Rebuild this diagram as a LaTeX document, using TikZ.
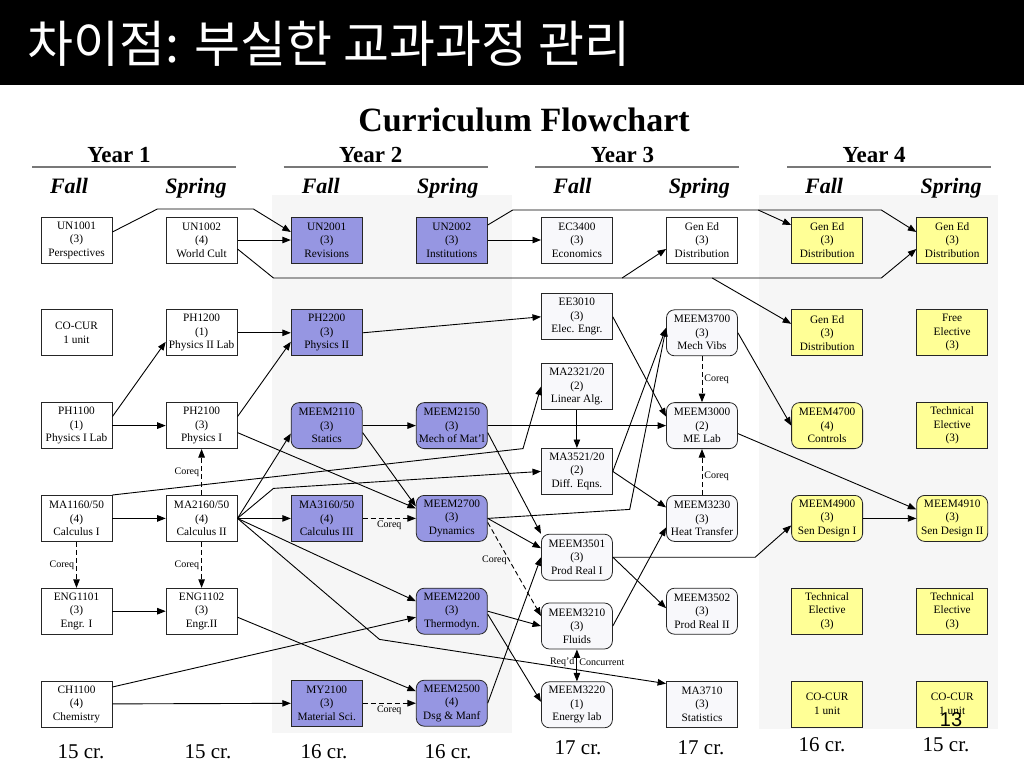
\documentclass[tikz,border=0pt]{standalone}
\usepackage{fontspec}
\setmainfont{Liberation Serif}
\setsansfont{Liberation Sans}
\newfontfamily\krfont{Noto Sans CJK KR}
\usetikzlibrary{positioning, arrows.meta, calc}
\pgfdeclarelayer{background}
\pgfsetlayers{background,main}
\definecolor{yeartwo}{RGB}{150,150,226}
\definecolor{yearthree}{RGB}{248,248,251}
\definecolor{yearfour}{RGB}{255,255,150}
\definecolor{panelgray}{RGB}{246,246,246}
\definecolor{rulegray}{RGB}{120,120,120}
\newcommand{\Course}[3]{#1\\(#2)\\#3}
\tikzset{
    course/.style={draw=black!85, line width=0.8pt, fill=white, minimum width=71pt,
      minimum height=46pt, inner sep=0pt, align=center, font=\fontsize{11.3}{13.5}\selectfont},
    mecourse/.style={course, rounded corners=8pt},
    ytwo/.style={fill=yeartwo},
    ythree/.style={fill=yearthree},
    yfour/.style={fill=yearfour},
    pre/.style={line width=0.9pt, -{Triangle[length=8.5pt,width=6.5pt]}},
    coreq/.style={pre, dash pattern=on 5pt off 3pt},
    mutual/.style={line width=0.9pt, {Triangle[length=8.5pt,width=6.5pt]}-{Triangle[length=8.5pt,width=6.5pt]}},
    tag/.style={font=\fontsize{10}{11}\selectfont, inner sep=2pt},
}

\begin{document}
\begin{tikzpicture}[x=1pt, y=1pt]
    \tikzset{
      node distance=46pt and 53.3pt
    }
    \useasboundingbox (0,0) rectangle (1024,-768);

    \begin{pgfonlayer}{background}
      \fill[panelgray] (272,-195) rectangle (512,-733);
      \fill[panelgray] (759,-195) rectangle (998,-729);
    \end{pgfonlayer}

    \fill[black] (0,0) rectangle (1024,-85);
    \node[anchor=west, text=white, font=\krfont\fontsize{50}{52}\selectfont] (slide) at (24,-44) {차이점: 부실한 교과과정 관리};
    \node[font=\bfseries\fontsize{34}{36}\selectfont] (chart) at (524,-120) {Curriculum Flowchart};

    \foreach \k in {1,...,4} {
      \pgfmathsetmacro\x{(\k-1)*251.7}
      \node[font=\bfseries\fontsize{23}{25}\selectfont] (year\k) at (119+\x,-155) {Year \k};
      \draw[rulegray, line width=2pt] (32+\x,-167) -- (236+\x,-167);
      \node[font=\bfseries\itshape\fontsize{22}{24}\selectfont] (fall\k) at (69+\x,-186) {Fall};
      \node[font=\bfseries\itshape\fontsize{22}{24}\selectfont] (spring\k) at (196+\x,-188) {Spring};
    }

    % year 1
    \node[course] (un1001) at (76.5,-240) {\Course{UN1001}{3}{Perspectives}};
    \node[course, below=of un1001] (cocur1) {CO-CUR\\1 unit};
    \node[course, below=of cocur1] (ph1100) {\Course{PH1100}{1}{Physics I Lab}};
    \node[course, below=of ph1100] (ma1160) {\Course{MA1160/50}{4}{Calculus I}};
    \node[course, below=of ma1160] (eng1101) {\Course{ENG1101}{3}{Engr. I}};
    \node[course, below=of eng1101] (ch1100) {\Course{CH1100}{4}{Chemistry}};

    \node[course, right=of un1001] (un1002) {\Course{UN1002}{4}{World Cult}};
    \node[course, right=of cocur1] (ph1200) {\Course{PH1200}{1}{Physics II Lab}};
    \node[course, right=of ph1100] (ph2100) {\Course{PH2100}{3}{Physics I}};
    \node[course, right=of ma1160] (ma2160) {\Course{MA2160/50}{4}{Calculus II}};
    \node[course, right=of eng1101] (eng1102) {\Course{ENG1102}{3}{Engr.II}};

    % year 2
    \node[course, ytwo, right=of un1002] (un2001) {\Course{UN2001}{3}{Revisions}};
    \node[course, ytwo, right=of ph1200] (ph2200) {\Course{PH2200}{3}{Physics II}};
    \node[mecourse, ytwo, right=of ph2100] (meem2110) {\Course{MEEM2110}{3}{Statics}};
    \node[course, ytwo, right=of ma2160] (ma3160) {\Course{MA3160/50}{4}{Calculus III}};
    \node[course, ytwo, below=138pt of ma3160] (my2100) {\Course{MY2100}{3}{Material Sci.}};

    \node[course, ytwo, right=of un2001] (un2002) {\Course{UN2002}{3}{Institutions}};
    \node[mecourse, ytwo, right=of meem2110] (meem2150) {\Course{MEEM2150}{3}{Mech of Mat'l}};
    \node[mecourse, ytwo, right=of ma3160] (meem2700) {\Course{MEEM2700}{3}{Dynamics}};
    \node[mecourse, ytwo, below=of meem2700] (meem2200) {\Course{MEEM2200}{3}{Thermodyn.}};
    \node[mecourse, ytwo, right=of my2100] (meem2500) {\Course{MEEM2500}{4}{Dsg \& Manf}};

    % year 3
    \node[course, ythree, right=of un2002] (ec3400) {\Course{EC3400}{3}{Economics}};
    \node[course, ythree, below=30pt of ec3400] (ee3010) {\Course{EE3010}{3}{Elec. Engr.}};
    \node[course, ythree, below=23pt of ee3010] (ma2321) {\Course{MA2321/20}{2}{Linear Alg.}};
    \node[course, ythree, below=38pt of ma2321] (ma3521) {\Course{MA3521/20}{2}{Diff. Eqns.}};
    \node[mecourse, ythree, below=39pt of ma3521] (meem3501) {\Course{MEEM3501}{3}{Prod Real I}};
    \node[mecourse, ythree, below=22pt of meem3501] (meem3210) {\Course{MEEM3210}{3}{Fluids}};
    \node[mecourse, ythree, below=32pt of meem3210] (meem3220) {\Course{MEEM3220}{1}{Energy lab}};

    \node[course, right=of ec3400] (gened3) {\Course{Gen Ed}{3}{Distribution}};
    \node[mecourse, ythree, below=of gened3] (meem3700) {\Course{MEEM3700}{3}{Mech Vibs}};
    \node[mecourse, ythree, below=of meem3700] (meem3000) {\Course{MEEM3000}{2}{ME Lab}};
    \node[mecourse, ythree, below=of meem3000] (meem3230) {\Course{MEEM3230}{3}{Heat Transfer}};
    \node[mecourse, ythree, below=of meem3230] (meem3502) {\Course{MEEM3502}{3}{Prod Real II}};
    \node[course, ythree, below=of meem3502] (ma3710) {\Course{MA3710}{3}{Statistics}};

    % year 4
    \node[course, yfour, right=of gened3] (gened4a) {\Course{Gen Ed}{3}{Distribution}};
    \node[course, yfour, below=of gened4a] (gened4b) {\Course{Gen Ed}{3}{Distribution}};
    \node[mecourse, yfour, below=of gened4b] (meem4700) {\Course{MEEM4700}{4}{Controls}};
    \node[mecourse, yfour, below=of meem4700] (meem4900) {\Course{MEEM4900}{3}{Sen Design I}};
    \node[course, yfour, below=of meem4900] (tech4a) {Technical\\Elective\\(3)};
    \node[course, yfour, below=of tech4a] (cocur4a) {CO-CUR\\1 unit};

    \node[course, yfour, right=of gened4a] (gened4c) {\Course{Gen Ed}{3}{Distribution}};
    \node[course, yfour, below=of gened4c] (free4) {Free\\Elective\\(3)};
    \node[course, yfour, below=of free4] (tech4b) {Technical\\Elective\\(3)};
    \node[mecourse, yfour, below=of tech4b] (meem4910) {\Course{MEEM4910}{3}{Sen Design II}};
    \node[course, yfour, below=of meem4910] (tech4c) {Technical\\Elective\\(3)};
    \node[course, yfour, below=of tech4c] (cocur4b) {CO-CUR\\1 unit};

    % general education runs
    \draw[pre] ([yshift=8pt]un1001.east) -- ++(45,23) -- ++(96,0) -- ([yshift=8pt]un2001.west);
    \draw[pre] ([yshift=-9pt]un1002.east) -- ++(36,-29) coordinate (lowbus)
      -- ($(gened4c.west |- lowbus)+(-35,0)$) -- ([yshift=-9pt]gened4c.west);
    \draw[pre] ($(gened3.west |- lowbus)+(-44,0)$) -- ([yshift=-9pt]gened3.west);
    \draw[pre] ($(gened4b.west |- lowbus)+(-79,0)$) -- ([yshift=9pt]gened4b.west);
    \draw[pre] ([yshift=15pt]un2002.east) -- ++(25,15) coordinate (topbus)
      -- ($(gened4c.west |- topbus)+(-35,0)$) -- ([yshift=8pt]gened4c.west);
    \draw[pre] ($(gened4a.west |- topbus)+(-33,0)$) -- ([yshift=15pt]gened4a.west);
    \draw (un1002) edge[pre] (un2001);
    \draw (un2002) edge[pre] (ec3400);

    % physics and maths
    \draw ([yshift=9pt]ph1100.east) edge[pre] ([yshift=-9pt]ph1200.west);
    \draw (ph1100) edge[pre] (ph2100);
    \draw (ph1200) edge[pre] (ph2200);
    \draw ([yshift=9pt]ph2100.east) edge[pre] ([yshift=-9pt]ph2200.west);
    \draw (ph2200.east) edge[pre] (ee3010.west);
    \draw ([yshift=-7pt]ph2100.east) edge[pre] ([yshift=10pt]meem2700.west);
    \draw (ma1160) edge[pre] (ma2160);
    \draw[pre] (ma1160.north east) -- ($(ma2321.west)+(-18,-62)$) -- (ma2321.west);
    \draw[pre] (ma2160.east) -- ++(36,30) -- (ma3521.west);
    \draw[pre] (ma2160.east) -- ++(142,-121) -- ([yshift=-3pt]ma3710.north west);
    \draw (ma2160.east) edge[pre] ([yshift=-8pt]meem2110.west);
    \draw (ma2160) edge[pre] (ma3160);
    \draw (ma2160.east) edge[pre] ([yshift=10pt]meem2200.west);
    \draw (eng1101) edge[pre] (eng1102);
    \draw ([yshift=-6pt]eng1102.east) edge[pre] ([yshift=12pt]meem2500.west);
    \draw ([yshift=17pt]ch1100.east) edge[pre] ([yshift=-6pt]meem2200.west);
    \draw (ch1100) edge[pre] (my2100);
    \draw (ma2321) edge[pre] (ma3521);

    % mechanics
    \draw (meem2110) edge[pre] (meem2150);
    \draw (meem2150) edge[pre] (meem3000);
    \draw ([yshift=-7pt]meem2110.east) edge[pre] ([yshift=12pt]meem2700.west);
    \draw ([yshift=-7pt]meem2150.east) edge[pre] (meem3501.north west);
    \draw[pre] (meem2700.east) -- ++(142,9) -- ([yshift=5pt]meem3700.west);
    \draw (meem2700.east) edge[pre] ([yshift=9pt]meem3501.west);
    \draw (meem2200.east) edge[pre] (meem3210.west);
    \draw ([yshift=-3pt]meem2200.east) edge[pre] ([yshift=3pt]meem3220.west);
    \draw (meem2500.east) edge[pre] (meem3501.west);
    \draw (ee3010.east) edge[pre] ([yshift=9pt]meem3000.west);
    \draw (ma3521.east) edge[pre] ([yshift=5pt]meem3700.west);
    \draw (ma3521.east) edge[pre] ([yshift=11pt]meem3230.west);
    \draw (meem3210.east) edge[pre] ([yshift=-9pt]meem3230.west);
    \draw (meem3501.east) edge[pre] ([yshift=3pt]meem3502.west);
    \draw[pre] (meem3501.east) -- ($(meem4900.west |- meem3501.east)+(-36,0)$) -- ([yshift=-7pt]meem4900.west);
    \draw (meem3700.east) edge[pre] (meem4700.west);
    \draw ([yshift=-8pt]meem3000.east) edge[pre] ([yshift=9pt]meem4910.west);
    \draw (meem4900) edge[pre] (meem4910);

    % co-requisites
    \draw (ma2160) edge[coreq] node[tag, left] {Coreq} (ph2100);
    \draw (ma1160) edge[coreq] node[tag, left] {Coreq} (eng1101);
    \draw (ma2160) edge[coreq] node[tag, left] {Coreq} (eng1102);
    \draw (ma3160) edge[coreq] node[tag, below] {Coreq} (meem2700);
    \draw (my2100) edge[coreq] node[tag, below] {Coreq} (meem2500);
    \draw ([yshift=-4pt]meem2700.east) edge[coreq] node[tag, left, pos=0.4] {Coreq} ([yshift=10pt]meem3210.west);
    \draw (meem3700) edge[coreq] node[tag, right] {Coreq} (meem3000);
    \draw (meem3230) edge[coreq] node[tag, right, pos=0.4] {Coreq} (meem3000);
    \draw (meem3210) edge[mutual] node[tag, left, pos=0.4] {Req'd} node[tag, right, pos=0.4] {Concurrent} (meem3220);

    % credit totals
    \foreach \cx/\cy/\cr [count=\i] in {81/752/15, 208/752/15, 324/752/16, 448/752/16,
        578/748/17, 701/748/17, 822/745/16, 946/745/15} {
      \node[font=\fontsize{21}{24}\selectfont] (cr\i) at (\cx,-\cy) {\cr{} cr.};
    }

    \node[font=\sffamily\fontsize{20}{22}\selectfont] (pageno) at (951,-720) {13};
  \end{tikzpicture}
\end{document}
